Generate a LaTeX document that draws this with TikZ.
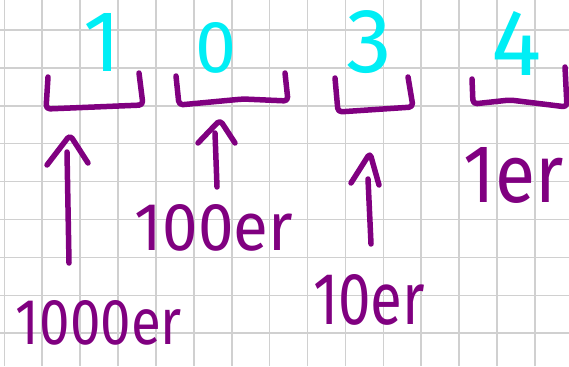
\documentclass[tikz,border=0pt]{standalone}
\usepackage{fontspec}
\usetikzlibrary{calc}
\setmainfont{Fira Sans}
\definecolor{pen}{RGB}{128,0,128}
\definecolor{cyanpen}{RGB}{0,238,245}
\definecolor{gridgray}{RGB}{208,208,208}
\tikzset{
  gridline/.style={draw=gridgray, line width=1.6pt},
  penstroke/.style={draw=pen, line width=5.5pt, line cap=round, line join=round, rounded corners=4pt},
  digit/.style={text=cyanpen, inner sep=0pt},
  lbl/.style={text=pen, inner sep=0pt}
}
\begin{document}
\begin{tikzpicture}[x=1pt,y=-1pt]
\useasboundingbox (0,0) rectangle (569,366);
\fill[white] (0,0) rectangle (569,366);
% grid paper
\foreach \k in {0,...,14} {\draw[gridline] ({4.3+37.9*\k},0) -- ({4.3+37.9*\k},366);}
\foreach \k in {1,...,9} {\draw[gridline] (0,{-7.9+37.9*\k}) -- (569,{-7.9+37.9*\k});}

% cyan digits
\node[digit] (d1) at (102,42) {\resizebox{!}{58pt}{1}};
\node[digit] (d0) at (216,48) {\resizebox{!}{50pt}{0}};
\node[digit] (d3) at (369,42) {\resizebox{!}{62pt}{3}};
\node[digit] (d4) at (517,43) {\resizebox{!}{64pt}{4}};

% brackets (places)
\draw[penstroke] (48,77) -- (46,109) -- (143,105) -- (139,73);
\draw[penstroke] (176,76) -- (179,105) -- (243,99) -- (288,101) -- (285,73);
\draw[penstroke] (335,78) -- (338,112) -- (413,107) -- (408,77);
\draw[penstroke] (472,79) -- (473,104) -- (510,100) -- (567,107) -- (565,67);

% labels
\node[lbl] (l1000) at (99,323) {\resizebox{166pt}{44pt}{1000er}};
\node[lbl] (l100) at (214,228) {\resizebox{158pt}{46pt}{100er}};
\node[lbl] (l10) at (369,300) {\resizebox{112pt}{50pt}{10er}};
\node[lbl] (l1) at (514,175) {\resizebox{100pt}{55pt}{1er}};

% arrows
\coordinate (a1b) at (69,263); \coordinate (a1t) at (67,152); \coordinate (a1h) at (70,135);
\coordinate (a2b) at (217,187); \coordinate (a2t) at (215,133); \coordinate (a2h) at (220,120);
\coordinate (a3b) at (371,244); \coordinate (a3t) at (368,179); \coordinate (a3h) at (370,153);
\draw[penstroke] (a1b) -- (a1t);
\draw[penstroke] ($(a1h)+(-23,30)$) -- (a1h) -- ($(a1h)+(18,28)$);
\draw[penstroke] (a2b) -- (a2t);
\draw[penstroke] ($(a2h)+(-22,23)$) -- (a2h) -- ($(a2h)+(15,23)$);
\draw[penstroke] (a3b) -- (a3t);
\draw[penstroke] ($(a3h)+(-19,30)$) -- (a3h) -- ($(a3h)+(9,32)$);
\end{tikzpicture}
\end{document}
